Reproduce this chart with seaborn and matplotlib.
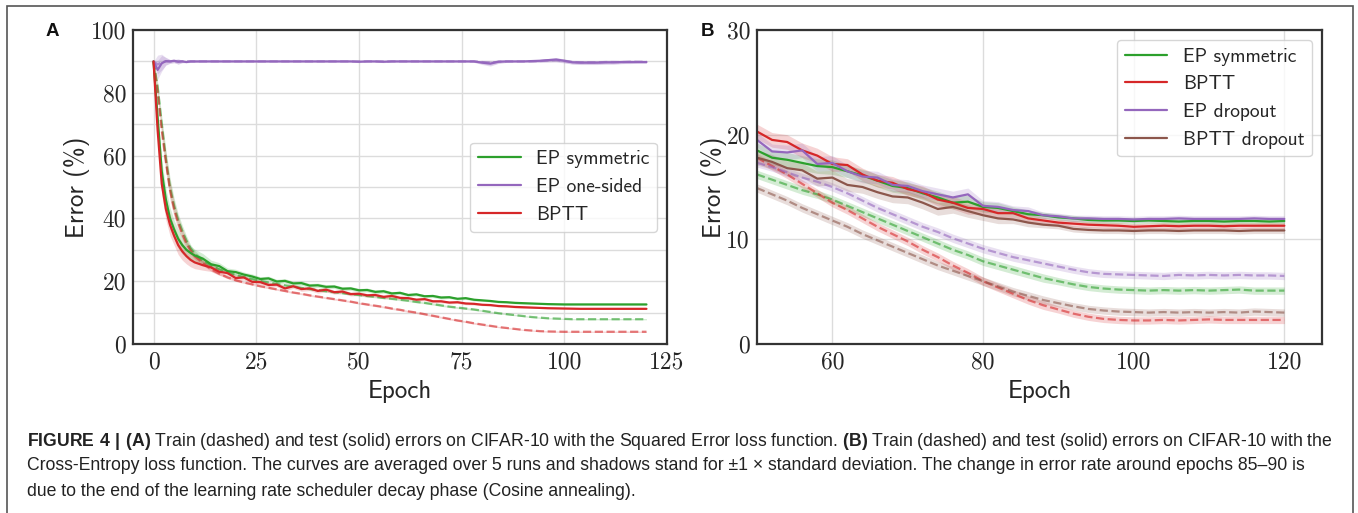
"""
Train/test error curves on CIFAR-10 (EP vs BPTT), two panels plus caption.
"""

import numpy as np
import pandas as pd
import matplotlib

matplotlib.use("Agg")
import seaborn as sns
from matplotlib import pyplot as plt
from matplotlib import font_manager
from matplotlib.font_manager import FontProperties
from matplotlib.patches import Rectangle

W, H = 1358, 513

# Panel A: squared error loss
epochs_a = list(range(0, 11)) + list(range(12, 121, 2))

sym_test_a = [90, 72, 55, 46, 40, 36.5, 33.5, 31.5, 30, 29, 28.2,
              27.2, 25.4, 24.8, 23.2, 22.9, 22.1, 21.5, 20.7, 20.9, 19.9,
              20.1, 19.3, 19.4, 18.6, 18.7, 18.2, 18.3, 17.6, 17.7, 17.1,
              17.2, 16.6, 16.8, 16.1, 16.3, 15.6, 15.8, 15.2, 15.3, 14.8,
              14.9, 14.4, 14.6, 14.1, 13.9, 13.7, 13.4, 13.3, 13.1, 13.0,
              12.9, 12.8, 12.7, 12.65, 12.6, 12.6, 12.6, 12.6, 12.6, 12.6,
              12.6, 12.6, 12.6, 12.6, 12.6]
bptt_test_a = [90, 68, 51, 43, 38, 34.5, 31.5, 29.5, 28, 26.8, 26.0,
               25.1, 24.4, 23.0, 22.6, 21.0, 21.2, 19.8, 19.7, 18.8, 18.9,
               17.7, 18.4, 17.5, 17.7, 16.9, 17.3, 16.5, 16.7, 15.9, 16.0,
               15.5, 15.6, 15.0, 15.3, 14.7, 14.6, 14.1, 14.3, 13.6, 13.6,
               13.2, 13.3, 12.9, 12.8, 12.5, 12.4, 12.1, 12.0, 11.8, 11.7,
               11.6, 11.5, 11.4, 11.35, 11.3, 11.25, 11.2, 11.2, 11.2, 11.2,
               11.2, 11.2, 11.2, 11.2, 11.2]
one_test_a = [90, 87.3, 89.4, 90.1, 90.0, 90.2, 89.9, 90.0, 89.8, 90.0, 90.0,
              90.0, 90.0, 90.0, 90.0, 90.0, 90.0, 90.0, 90.0, 90.0, 90.0,
              90.0, 90.0, 90.0, 90.0, 90.0, 90.0, 90.0, 90.0, 90.0, 89.9,
              90.0, 90.0, 89.9, 90.0, 90.0, 90.0, 90.0, 90.0, 90.0, 90.0,
              90.0, 90.0, 90.0, 90.0, 89.6, 89.3, 89.9, 90.0, 90.0, 90.0,
              90.1, 90.2, 90.4, 90.6, 90.2, 89.7, 89.6, 89.6, 89.6, 89.7,
              89.7, 89.8, 89.8, 89.8, 89.8]

sym_train_a = [90, 82, 70, 59, 50, 44, 39.5, 36, 33, 30.5, 28.8,
               26.5, 25.0, 23.8, 22.8, 22.0, 21.3, 20.7, 20.1, 19.6, 19.1,
               18.7, 18.3, 17.9, 17.5, 17.2, 16.8, 16.5, 16.2, 15.9, 15.6,
               15.3, 15.0, 14.7, 14.4, 14.1, 13.8, 13.4, 13.1, 12.7, 12.3,
               11.9, 11.6, 11.3, 11.0, 10.6, 10.2, 9.8, 9.5, 9.2, 8.9,
               8.6, 8.4, 8.2, 8.1, 8.0, 7.9, 7.9, 7.9, 7.9, 7.9,
               7.9, 7.9, 7.9, 7.9, 7.9]
bptt_train_a = [90, 80, 68, 58, 49, 43, 38.5, 35, 32, 29.8, 28.0,
                25.8, 23.8, 22.4, 21.2, 20.3, 19.6, 19.0, 18.4, 17.9, 17.4,
                16.9, 16.4, 16.0, 15.5, 15.1, 14.7, 14.3, 13.9, 13.5, 13.0,
                12.6, 12.2, 11.8, 11.3, 10.9, 10.4, 10.0, 9.5, 9.0, 8.5,
                8.0, 7.5, 7.1, 6.6, 6.2, 5.8, 5.4, 5.1, 4.8, 4.5,
                4.3, 4.1, 4.0, 3.95, 3.9, 3.9, 3.9, 3.9, 3.9, 3.9,
                3.9, 3.9, 3.9, 3.9, 3.9]
one_train_a = [90, 89.0, 89.8, 90.0, 90.0, 90.0, 90.0, 90.0, 90.0, 90.0, 90.0,
               90.0, 90.0, 90.0, 90.0, 90.0, 90.0, 90.0, 90.0, 90.0, 90.0,
               90.0, 90.0, 90.0, 90.0, 90.0, 90.0, 90.0, 90.0, 90.0, 90.0,
               90.0, 90.0, 90.0, 90.0, 90.0, 90.0, 90.0, 90.0, 90.0, 90.0,
               90.0, 90.0, 90.0, 90.0, 89.8, 89.6, 89.9, 90.0, 90.0, 90.0,
               90.0, 90.1, 90.3, 90.4, 90.1, 89.8, 89.7, 89.7, 89.7, 89.8,
               89.8, 89.8, 89.9, 89.9, 89.9]

test_sd_a = [0.0, 2.5, 3.5, 3.5, 3.5, 3.0, 3.0, 2.8, 2.5, 2.2, 2.0,
             1.6, 1.3, 1.1, 1.0, 0.9, 0.8, 0.8, 0.7, 0.7, 0.7,
             0.7, 0.7, 0.7, 0.7, 0.7, 0.7, 0.6, 0.6, 0.6, 0.6,
             0.6, 0.6, 0.6, 0.6, 0.5, 0.5, 0.5, 0.5, 0.5, 0.5,
             0.4, 0.4, 0.4, 0.4, 0.3, 0.3, 0.3, 0.3, 0.3, 0.3,
             0.2, 0.2, 0.2, 0.2, 0.2, 0.2, 0.2, 0.2, 0.2, 0.2,
             0.2, 0.2, 0.2, 0.2, 0.2]
train_sd_a = [0.0, 1.5, 2.5, 3.0, 3.0, 2.5, 2.0, 1.8, 1.5, 1.2, 1.0,
              0.8, 0.6, 0.5, 0.4, 0.4, 0.3, 0.3, 0.3, 0.3, 0.3,
              0.3, 0.3, 0.3, 0.3, 0.3, 0.3, 0.3, 0.3, 0.3, 0.3,
              0.3, 0.3, 0.3, 0.3, 0.3, 0.3, 0.3, 0.3, 0.3, 0.3,
              0.3, 0.3, 0.3, 0.3, 0.3, 0.3, 0.2, 0.2, 0.2, 0.2,
              0.2, 0.2, 0.2, 0.2, 0.2, 0.2, 0.2, 0.2, 0.2, 0.2,
              0.2, 0.2, 0.2, 0.2, 0.2]
one_sd_a = [0.0, 3.0, 2.5, 1.2, 0.6, 0.5, 0.8, 0.4, 0.3, 0.3, 0.3,
            0.2, 0.2, 0.2, 0.2, 0.2, 0.2, 0.2, 0.2, 0.2, 0.2,
            0.2, 0.2, 0.2, 0.2, 0.2, 0.2, 0.2, 0.2, 0.2, 0.3,
            0.2, 0.2, 0.3, 0.2, 0.2, 0.2, 0.2, 0.2, 0.2, 0.2,
            0.2, 0.2, 0.2, 0.3, 0.6, 0.8, 0.5, 0.3, 0.2, 0.2,
            0.3, 0.4, 0.5, 0.6, 0.6, 0.6, 0.6, 0.6, 0.6, 0.6,
            0.6, 0.5, 0.5, 0.4, 0.4]

# Panel B: cross-entropy loss
epochs_b = list(range(50, 121, 2))

sym_test_b = [18.5, 17.8, 17.6, 17.3, 17.0, 16.9, 16.5, 16.1, 15.6, 15.1,
              14.9, 14.4, 14.0, 13.5, 13.6, 13.1, 13.0, 12.7, 12.4, 12.3,
              12.1, 12.0, 11.85, 11.8, 11.8, 11.75, 11.8, 11.75, 11.7, 11.75,
              11.75, 11.7, 11.75, 11.75, 11.7, 11.75]
bptt_test_b = [20.3, 19.5, 19.3, 18.5, 18.0, 17.2, 17.1, 16.2, 15.6, 15.4,
               14.8, 14.5, 13.8, 13.5, 13.0, 12.9, 12.5, 12.5, 12.0, 11.8,
               11.6, 11.5, 11.4, 11.35, 11.3, 11.2, 11.25, 11.3, 11.25, 11.3,
               11.3, 11.25, 11.3, 11.3, 11.3, 11.3]
epdrop_test_b = [19.5, 18.4, 18.3, 18.5, 17.2, 17.3, 16.5, 16.0, 15.9, 15.2,
                 15.1, 14.6, 14.3, 14.0, 14.3, 13.2, 13.1, 12.8, 12.7, 12.3,
                 12.2, 12.0, 12.0, 11.95, 11.95, 11.9, 11.95, 11.95, 12.0, 11.95,
                 11.95, 11.95, 11.95, 12.0, 11.95, 11.95]
bpdrop_test_b = [17.8, 17.4, 16.8, 16.6, 15.8, 15.9, 15.2, 15.0, 14.5, 14.1,
                 14.0, 13.5, 12.9, 13.1, 12.7, 12.3, 12.0, 11.9, 11.6, 11.4,
                 11.3, 11.0, 10.9, 10.85, 10.85, 10.8, 10.85, 10.85, 10.8, 10.85,
                 10.85, 10.85, 10.8, 10.85, 10.85, 10.85]

sym_train_b = [16.2, 15.7, 15.2, 14.7, 14.3, 13.8, 13.2, 12.6, 12.0, 11.4,
               10.8, 10.2, 9.6, 9.0, 8.5, 7.9, 7.5, 7.1, 6.7, 6.3,
               6.0, 5.7, 5.45, 5.3, 5.2, 5.15, 5.1, 5.15, 5.1, 5.15,
               5.1, 5.15, 5.2, 5.1, 5.1, 5.1]
bptt_train_b = [17.8, 17.0, 16.2, 15.3, 14.4, 13.5, 12.8, 12.0, 11.2, 10.5,
                9.8, 9.0, 8.3, 7.5, 6.8, 6.0, 5.4, 4.8, 4.2, 3.7,
                3.3, 2.9, 2.6, 2.4, 2.3, 2.25, 2.25, 2.3, 2.25, 2.3,
                2.35, 2.3, 2.3, 2.3, 2.3, 2.3]
epdrop_train_b = [17.3, 16.9, 16.4, 15.9, 15.5, 15.0, 14.4, 13.7, 13.0, 12.4,
                  11.8, 11.2, 10.7, 10.1, 9.6, 9.1, 8.7, 8.3, 8.0, 7.7,
                  7.4, 7.1, 6.85, 6.7, 6.65, 6.6, 6.55, 6.5, 6.6, 6.55,
                  6.6, 6.55, 6.6, 6.55, 6.55, 6.5]
bpdrop_train_b = [14.9, 14.3, 13.7, 13.0, 12.4, 11.8, 11.2, 10.5, 9.9, 9.3,
                  8.7, 8.1, 7.5, 7.0, 6.5, 6.0, 5.5, 5.0, 4.6, 4.2,
                  3.9, 3.6, 3.35, 3.2, 3.1, 3.05, 3.0, 3.05, 3.0, 3.05,
                  3.0, 3.05, 3.0, 3.1, 3.05, 3.0]

test_sd_b = [0.7, 0.7, 0.7, 0.7, 0.7, 0.7, 0.6, 0.6, 0.6, 0.6,
             0.6, 0.6, 0.6, 0.6, 0.6, 0.5, 0.5, 0.4, 0.4, 0.3,
             0.3, 0.3, 0.3, 0.3, 0.3, 0.3, 0.3, 0.3, 0.3, 0.3,
             0.3, 0.3, 0.3, 0.3, 0.3, 0.3]
train_sd_b = [0.4, 0.4, 0.4, 0.4, 0.4, 0.4, 0.4, 0.4, 0.4, 0.4,
              0.4, 0.4, 0.4, 0.4, 0.4, 0.4, 0.4, 0.4, 0.4, 0.4,
              0.35, 0.35, 0.35, 0.35, 0.35, 0.35, 0.35, 0.35, 0.35, 0.35,
              0.35, 0.35, 0.35, 0.35, 0.35, 0.35]

caption = [
    r"$\bf{FIGURE\ 4\ |\ (A)}$ Train (dashed) and test (solid) errors on CIFAR-10 "
    r"with the Squared Error loss function. $\bf{(B)}$ Train (dashed) and test "
    r"(solid) errors on CIFAR-10 with the",
    "Cross-Entropy loss function. The curves are averaged over 5 runs and shadows "
    "stand for ±1 × standard deviation. The change in error rate around epochs 85–90 is",
    "due to the end of the learning rate scheduler decay phase (Cosine annealing).",
]

colors = {
    "EP symmetric": "#2ca02c",
    "EP one-sided": "#9467bd",
    "BPTT": "#d62728",
    "EP dropout": "#9467bd",
    "BPTT dropout": "#8c564b",
}

# caption font: a narrow sans if there is one
cap_family = "Liberation Sans"
try:
    font_manager.findfont("Liberation Sans Narrow", fallback_to_default=False)
    cap_family = "Liberation Sans Narrow"
except ValueError:
    pass

sns.set_style("whitegrid")
plt.rcParams["font.family"] = "cmr10"
plt.rcParams["axes.unicode_minus"] = False
plt.rcParams["mathtext.fontset"] = "custom"
plt.rcParams["mathtext.rm"] = cap_family
plt.rcParams["mathtext.bf"] = cap_family + ":bold"

label_font = FontProperties(family="cmss10", size=18)
legend_font = FontProperties(family="cmss10", size=14)


def to_long(epochs, curves):
    frames = [
        pd.DataFrame({"epoch": epochs, "error": vals, "model": name})
        for name, vals in curves.items()
    ]
    return pd.concat(frames, ignore_index=True)


def draw_panel(ax, epochs, test, train, test_sd, train_sd, order, legend_loc, ypad):
    # shadows (+/- 1 std)
    for name in order:
        for vals, sd in ((train[name], train_sd[name]), (test[name], test_sd[name])):
            m, s = np.asarray(vals), np.asarray(sd)
            ax.fill_between(epochs, m - s, m + s, color=colors[name], alpha=0.2, lw=0)

    pal = {k: colors[k] for k in order}
    sns.lineplot(data=to_long(epochs, train), x="epoch", y="error", hue="model",
                 hue_order=order, palette=pal, linestyle="--", lw=1.6, alpha=0.6,
                 errorbar=None, legend=False, ax=ax)
    sns.lineplot(data=to_long(epochs, test), x="epoch", y="error", hue="model",
                 hue_order=order, palette=pal, lw=1.6, errorbar=None, ax=ax)

    leg = ax.get_legend()
    handles = leg.legend_handles
    labels = [t.get_text() for t in leg.get_texts()]
    ax.legend(handles, labels, loc=legend_loc, prop=legend_font, handlelength=2.2)

    for sp in ax.spines.values():
        sp.set_color("#333333")
        sp.set_linewidth(1.6)
    ax.grid(True, which="both", color="#dcdcdc", lw=1)
    ax.tick_params(which="both", labelsize=17, length=0, pad=5)
    ax.set_xlabel("Epoch", fontproperties=label_font, labelpad=5)
    ax.set_ylabel("Error (%)", fontproperties=label_font, labelpad=ypad)


fig = plt.figure(figsize=(W / 100, H / 100), dpi=100)
ax_a = fig.add_axes([133 / W, (H - 344) / H, 534 / W, 314 / H])
ax_b = fig.add_axes([757 / W, (H - 344) / H, 565 / W, 314 / H])

draw_panel(
    ax_a, epochs_a,
    {"EP symmetric": sym_test_a, "EP one-sided": one_test_a, "BPTT": bptt_test_a},
    {"EP symmetric": sym_train_a, "EP one-sided": one_train_a, "BPTT": bptt_train_a},
    {"EP symmetric": test_sd_a, "EP one-sided": one_sd_a, "BPTT": test_sd_a},
    {"EP symmetric": train_sd_a, "EP one-sided": one_sd_a, "BPTT": train_sd_a},
    ["EP symmetric", "EP one-sided", "BPTT"], "center right", 0.5,
)
ax_a.set_xlim(-5, 125)
ax_a.set_ylim(0, 100)
ax_a.set_xticks([0, 25, 50, 75, 100, 125])
ax_a.set_yticks([0, 20, 40, 60, 80, 100])
ax_a.set_yticks([10, 30, 50, 70, 90], minor=True)

order_b = ["EP symmetric", "BPTT", "EP dropout", "BPTT dropout"]
draw_panel(
    ax_b, epochs_b,
    {"EP symmetric": sym_test_b, "BPTT": bptt_test_b,
     "EP dropout": epdrop_test_b, "BPTT dropout": bpdrop_test_b},
    {"EP symmetric": sym_train_b, "BPTT": bptt_train_b,
     "EP dropout": epdrop_train_b, "BPTT dropout": bpdrop_train_b},
    {k: test_sd_b for k in order_b},
    {k: train_sd_b for k in order_b},
    order_b, "upper right", -0.5,
)
ax_b.set_xlim(50, 125)
ax_b.set_ylim(0, 30)
ax_b.set_xticks([60, 80, 100, 120])
ax_b.set_yticks([0, 10, 20, 30])

# panel letters
for x, letter in [(52, "A"), (708, "B")]:
    fig.text(x / W, 1 - 32 / H, letter, family="Liberation Sans", weight="bold",
             size=13.5, ha="center", va="center", color="#111111")

# outer frame
fig.patches.append(Rectangle((7 / W, -0.05), 1346 / W, 1.05 - 6.5 / H,
                             transform=fig.transFigure, fill=False,
                             edgecolor="#555555", lw=1.2))

# caption, scaled so that the first line spans the frame width
renderer = fig.canvas.get_renderer()
cap_texts = []
for y, line in zip([441, 466, 491], caption):
    cap_texts.append(fig.text(27 / W, 1 - y / H, line, family=cap_family,
                              size=12, color="#222222", va="center"))
width = cap_texts[0].get_window_extent(renderer).width
for t in cap_texts:
    t.set_fontsize(12 * 1304 / width)

fig.savefig("out.png", dpi=100)
